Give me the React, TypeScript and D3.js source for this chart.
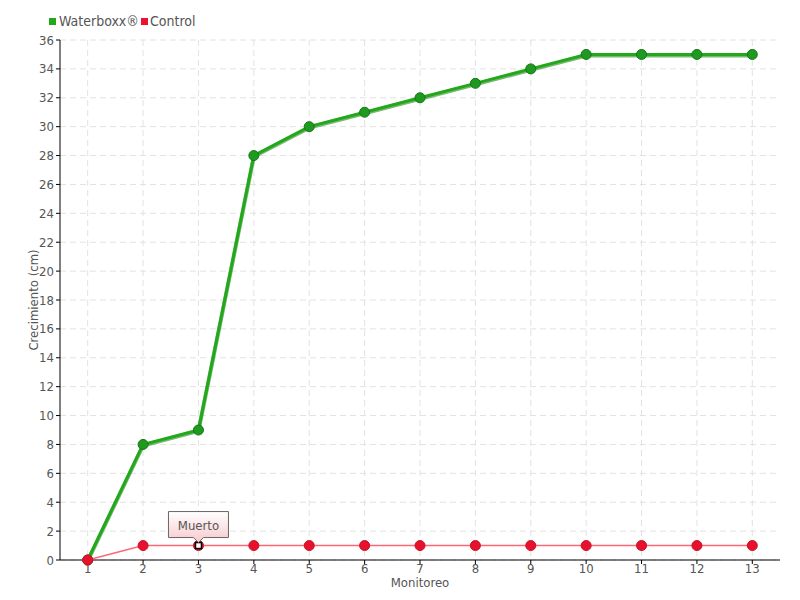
import React from "react";
import * as d3 from "d3";

const categories = ["1","2","3","4","5","6","7","8","9","10","11","12","13"];
const waterboxx = [0, 8, 9, 28, 30, 31, 32, 33, 34, 35, 35, 35, 35];
const control = [0, 1, 1, 1, 1, 1, 1, 1, 1, 1, 1, 1, 1];
const yTicks = d3.range(0, 37, 2);
const seriesNames = ["Waterboxx®", "Control"];
const tooltipIndex = 2;
const tooltipText = "Muerto";

const W = 800, H = 600;
const M = { left: 60, right: 20, top: 40, bottom: 40 };
const FONT = "'DejaVu Sans Condensed', 'Liberation Sans Narrow', sans-serif";

export default function App() {
  const x = d3.scalePoint<string>().domain(categories).range([M.left, W - M.right]).padding(0.5);
  const y = d3.scaleLinear().domain([0, 36]).range([H - M.bottom, M.top]);
  const line = d3.line<number>().x((_, i) => x(categories[i])!).y((d) => y(d));
  const tx = x(categories[tooltipIndex])!;
  const ty = y(control[tooltipIndex]);
  return (
    <svg width={W} height={H} style={{ position: "absolute", left: 0, top: 0, background: "#fff" }} fontFamily={FONT}>
      <defs>
        <linearGradient id="tip" x1="0" y1="0" x2="0" y2="1">
          <stop offset="0" stopColor="#ffffff" />
          <stop offset="1" stopColor="#f8c8cc" />
        </linearGradient>
      </defs>
      {/* grid */}
      {yTicks.map((t) => (
        <line key={"gy" + t} x1={M.left} x2={W - M.right} y1={y(t)} y2={y(t)} stroke="#e2e2e2" strokeDasharray="6,4" />
      ))}
      {categories.map((c) => (
        <line key={"gx" + c} x1={x(c)} x2={x(c)} y1={M.top} y2={H - M.bottom} stroke="#e2e2e2" strokeDasharray="6,4" />
      ))}
      {/* axes */}
      <line x1={M.left} x2={M.left} y1={M.top} y2={H - M.bottom} stroke="#000" />
      <line x1={M.left} x2={W - M.right} y1={H - M.bottom} y2={H - M.bottom} stroke="#000" />
      {yTicks.map((t) => (
        <g key={"ty" + t}>
          <line x1={M.left - 4} x2={M.left} y1={y(t)} y2={y(t)} stroke="#000" />
          <text x={M.left - 6} y={y(t)} dy="0.35em" textAnchor="end" fontSize={13} fill="#555">{t}</text>
        </g>
      ))}
      {categories.map((c) => (
        <g key={"tx" + c}>
          <line x1={x(c)} x2={x(c)} y1={H - M.bottom} y2={H - M.bottom + 4} stroke="#000" />
          <text x={x(c)} y={H - M.bottom + 13} textAnchor="middle" fontSize={13} fill="#555">{c}</text>
        </g>
      ))}
      <text x={420} y={587} textAnchor="middle" fontSize={13} fill="#555">Monitoreo</text>
      <text transform={`translate(38,300) rotate(-90)`} textAnchor="middle" fontSize={13} fill="#555">Crecimiento (cm)</text>
      {/* waterboxx series */}
      <path d={line(waterboxx)!} fill="none" stroke="#1a8a14" strokeWidth={4} opacity={0.6} transform="translate(0,1)" />
      <path d={line(waterboxx)!} fill="none" stroke="#22a81a" strokeWidth={3} />
      {waterboxx.map((v, i) => (
        <circle key={"w" + i} cx={x(categories[i])} cy={y(v)} r={5} fill="#1e9a1e" stroke="#16741a" strokeWidth={1} />
      ))}
      {/* control series */}
      <path d={line(control)!} fill="none" stroke="#ff6676" strokeWidth={1.5} />
      {control.map((v, i) => (
        <circle key={"c" + i} cx={x(categories[i])} cy={y(v)} r={5} fill="#e8112d" stroke="#c80f25" strokeWidth={1} />
      ))}
      {/* highlighted point */}
      <rect x={tx - 3} y={ty - 3} width={6} height={6} fill="#fff" stroke="#000" strokeWidth={1.5} />
      {/* tooltip */}
      <path
        d={`M${tx - 30},${ty - 34} H${tx + 30} V${ty - 8} H${tx + 5} L${tx},${ty - 3} L${tx - 5},${ty - 8} H${tx - 30} Z`}
        fill="url(#tip)" stroke="#666" strokeWidth={1}
      />
      <text x={tx} y={ty - 16} textAnchor="middle" fontSize={13} fill="#555">{tooltipText}</text>
      {/* legend */}
      <rect x={49} y={18} width={7} height={7} fill="#22a81a" />
      <text x={59} y={26} fontSize={14} fill="#555">{seriesNames[0]}</text>
      <rect x={141} y={18} width={7} height={7} fill="#ee1133" />
      <text x={150} y={26} fontSize={14} fill="#555">{seriesNames[1]}</text>
    </svg>
  );
}
